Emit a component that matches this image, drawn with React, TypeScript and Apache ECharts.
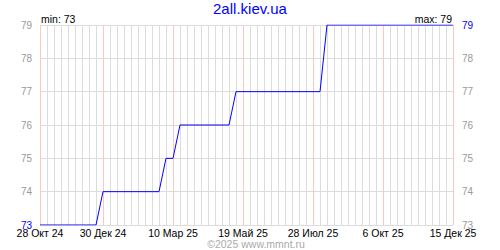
import React, { useEffect, useRef } from "react";
import * as echarts from "echarts";

const categories: string[] = [
  "28 Окт 24", "4 Ноя 24", "11 Ноя 24", "18 Ноя 24", "25 Ноя 24",
  "2 Дек 24", "9 Дек 24", "16 Дек 24", "23 Дек 24", "30 Дек 24",
  "6 Янв 25", "13 Янв 25", "20 Янв 25", "27 Янв 25",
  "3 Фев 25", "10 Фев 25", "17 Фев 25", "24 Фев 25",
  "3 Мар 25", "10 Мар 25", "17 Мар 25", "24 Мар 25", "31 Мар 25",
  "7 Апр 25", "14 Апр 25", "21 Апр 25", "28 Апр 25",
  "5 Май 25", "12 Май 25", "19 Май 25", "26 Май 25",
  "2 Июн 25", "9 Июн 25", "16 Июн 25", "23 Июн 25", "30 Июн 25",
  "7 Июл 25", "14 Июл 25", "21 Июл 25", "28 Июл 25",
  "4 Авг 25", "11 Авг 25", "18 Авг 25", "25 Авг 25",
  "1 Сен 25", "8 Сен 25", "15 Сен 25", "22 Сен 25", "29 Сен 25",
  "6 Окт 25", "13 Окт 25", "20 Окт 25", "27 Окт 25",
  "3 Ноя 25", "10 Ноя 25", "17 Ноя 25", "24 Ноя 25",
  "1 Дек 25", "8 Дек 25", "15 Дек 25",
];

const values: number[] = [
  73, 73, 73, 73, 73, 73, 73, 73, 73,
  74, 74, 74, 74, 74, 74, 74, 74, 74,
  75, 75,
  76, 76, 76, 76, 76, 76, 76, 76,
  77, 77, 77, 77, 77, 77, 77, 77, 77, 77, 77, 77, 77,
  79, 79, 79, 79, 79, 79, 79, 79, 79, 79, 79, 79, 79, 79, 79, 79, 79, 79, 79,
];

const labelledDates: string[] = [
  "28 Окт 24", "30 Дек 24", "10 Мар 25", "19 Май 25", "28 Июл 25", "6 Окт 25", "15 Дек 25",
];
const majorLineDates: string[] = [
  "28 Окт 24", "30 Дек 24", "10 Мар 25", "19 Май 25", "28 Июл 25", "6 Окт 25", "15 Дек 25",
];

const yMin = 73;
const yMax = 79;
const titleText = "2all.kiev.ua";
const minText = "min: 73";
const maxText = "max: 79";
const copyrightText = "©2025 www.mmnt.ru";

const FONT = "Liberation Sans, Arial, sans-serif";
const BLUE = "#0000ff";
const GRAY_LABEL = "#999999";

export default function App() {
  const ref = useRef<HTMLDivElement>(null);
  useEffect(() => {
    if (!ref.current) return;
    const chart = echarts.init(ref.current, undefined, { renderer: "svg" });
    const labelIdx = labelledDates.map((d) => categories.indexOf(d));
    const majorIdx = majorLineDates.map((d) => categories.indexOf(d));
    chart.setOption({
      animation: false,
      backgroundColor: "#ffffff",
      textStyle: { fontFamily: FONT },
      grid: { left: 40, right: 47, top: 25, bottom: 25, containLabel: false },
      xAxis: [
        {
          type: "category",
          data: categories,
          boundaryGap: false,
          axisLine: { show: false },
          axisTick: { show: false },
          axisLabel: {
            interval: (i: number) => labelIdx.includes(i),
            color: "#000000",
            fontSize: 10.5,
            lineHeight: 11,
            fontFamily: FONT,
            margin: 2,
          },
          splitLine: { show: true, interval: 0, lineStyle: { color: "#dcdcdc", width: 1 } },
          z: 0,
        },
        {
          type: "category",
          data: categories,
          boundaryGap: false,
          position: "bottom",
          axisLine: { show: false },
          axisTick: { show: false },
          axisLabel: { show: false },
          splitLine: {
            show: true,
            interval: (i: number) => majorIdx.includes(i),
            lineStyle: { color: "#ffc4c4", width: 1 },
          },
          z: 1,
        },
      ],
      yAxis: [
        {
          type: "value",
          min: yMin,
          max: yMax,
          interval: 1,
          position: "left",
          axisLine: { show: false },
          axisTick: { show: false },
          splitLine: { show: true, lineStyle: { color: "#dcdcdc", width: 1 } },
          axisLabel: {
            margin: 8,
            fontFamily: FONT,
            fontSize: 10,
            formatter: (v: number) => (v === yMin ? `{b|${v}}` : `{g|${v}}`),
            rich: {
              b: { color: BLUE, fontSize: 10, lineHeight: 10, fontFamily: FONT },
              g: { color: GRAY_LABEL, fontSize: 10, lineHeight: 10, fontFamily: FONT },
            },
          },
        },
        {
          type: "value",
          min: yMin,
          max: yMax,
          interval: 1,
          position: "right",
          axisLine: { show: false },
          axisTick: { show: false },
          splitLine: { show: false },
          axisLabel: {
            margin: 9,
            fontFamily: FONT,
            fontSize: 10,
            formatter: (v: number) => (v === yMax ? `{b|${v}}` : `{g|${v}}`),
            rich: {
              b: { color: BLUE, fontSize: 10, lineHeight: 10, fontFamily: FONT },
              g: { color: GRAY_LABEL, fontSize: 10, lineHeight: 10, fontFamily: FONT },
            },
          },
        },
      ],
      series: [
        {
          type: "line",
          data: values,
          xAxisIndex: 0,
          yAxisIndex: 0,
          showSymbol: false,
          symbol: "none",
          lineStyle: { color: BLUE, width: 1 },
          z: 5,
        },
      ],
      graphic: [
        {
          type: "text",
          x: 250,
          y: 8,
          style: {
            text: titleText,
            fill: BLUE,
            font: `15px ${FONT}`,
            textAlign: "center",
            textVerticalAlign: "middle",
          },
        },
        {
          type: "text",
          x: 41,
          y: 19,
          style: {
            text: minText,
            fill: "#000000",
            font: `10.5px ${FONT}`,
            textAlign: "left",
            textVerticalAlign: "middle",
          },
        },
        {
          type: "text",
          x: 452,
          y: 19,
          style: {
            text: maxText,
            fill: "#000000",
            font: `10.5px ${FONT}`,
            textAlign: "right",
            textVerticalAlign: "middle",
          },
        },
        {
          type: "text",
          x: 256,
          y: 244,
          style: {
            text: copyrightText,
            fill: "#aaaaaa",
            font: `10.5px ${FONT}`,
            textAlign: "center",
            textVerticalAlign: "middle",
          },
        },
      ],
    });
    return () => chart.dispose();
  }, []);
  return (
    <div
      ref={ref}
      style={{ position: "fixed", left: 0, top: 0, width: 500, height: 250 }}
    />
  );
}
